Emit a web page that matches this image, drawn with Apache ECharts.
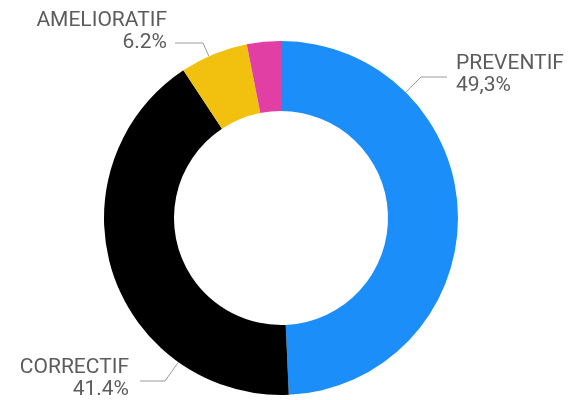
<!DOCTYPE html>
<html>
<head>
<meta charset="utf-8">
<script src="https://cdn.jsdelivr.net/npm/echarts@6/dist/echarts.min.js"></script>
<style>html,body{margin:0;padding:0;background:#fff}#c{width:572px;height:400px}</style>
</head>
<body>
<div id="c"></div>
<script>
const categories = ['PREVENTIF', 'CORRECTIF', 'AMELIORATIF', 'AUTRE'];
const values = [49.3, 41.4, 6.2, 3.1];
const valueLabels = ['49,3%', '41.4%', '6.2%', ''];
const colors = ['#1C8EF9', '#000000', '#F2C10F', '#E23FA4'];

const CENTER = [281, 218];
const R_IN = 107, R_OUT = 177;
// label anchor placement (layout only)
const labelPlaces = {
  0: { x: 456, y: 75, align: 'left', lineDy: 2, gap: 9, len: 26 },
  1: { x: 129, y: 379, align: 'right', lineDy: 2, gap: 11, len: 25 },
  2: { x: 167, y: 32, align: 'right', lineDy: 11, gap: 8, len: 28 }
};

const chart = echarts.init(document.getElementById('c'));
chart.setOption({
  animation: false,
  series: [{
    type: 'pie',
    center: CENTER,
    radius: [R_IN, R_OUT],
    startAngle: 90,
    clockwise: true,
    avoidLabelOverlap: false,
    data: categories.map((c, i) => ({
      name: c,
      value: values[i],
      itemStyle: { color: colors[i] },
      label: { show: i < 3 },
      labelLine: { show: i < 3 }
    })),
    label: {
      show: true,
      position: 'outside',
      formatter: p => p.name + '\n' + valueLabels[p.dataIndex],
      color: '#5c5c5c',
      fontFamily: 'Roboto',
      fontSize: 21,
      lineHeight: 22
    },
    labelLine: {
      show: true,
      length: 10,
      length2: 26,
      lineStyle: { color: '#9a9a9a', width: 1 }
    },
    labelLayout: p => {
      const lp = labelPlaces[p.dataIndex];
      if (!lp) return {};
      const dir = lp.align === 'left' ? -1 : 1;
      const ly = lp.y + lp.lineDy;
      const p0 = [lp.x + dir * lp.gap, ly];
      const p1 = [p0[0] + dir * lp.len, ly];
      const dx = p1[0] - CENTER[0], dy = p1[1] - CENTER[1];
      const d = Math.sqrt(dx * dx + dy * dy);
      const p2 = [CENTER[0] + dx / d * R_OUT, CENTER[1] + dy / d * R_OUT];
      return {
        x: lp.x, y: lp.y, align: lp.align, verticalAlign: 'middle',
        labelLinePoints: [p2, p1, p0]
      };
    }
  }]
});
</script>
</body>
</html>
